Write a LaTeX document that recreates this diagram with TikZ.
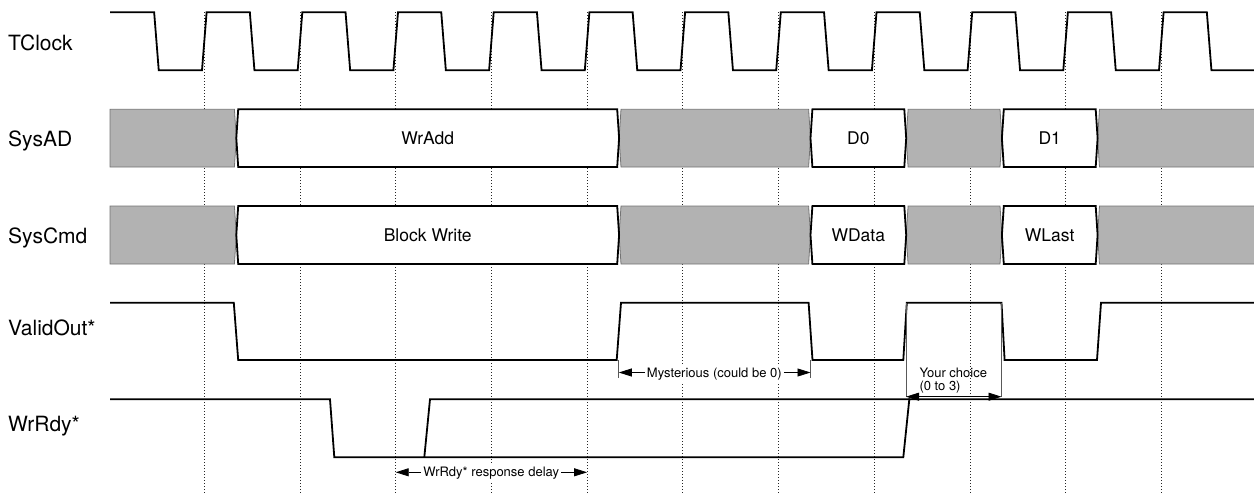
\documentclass[tikz,border=0pt]{standalone}
\usepackage{fontspec}
\setmainfont{TeX Gyre Heros}
\usetikzlibrary{arrows.meta}
\begin{document}
\begin{tikzpicture}[x=1pt,y=-1pt,
  sig/.style={line width=1.8pt, line join=miter},
  gridline/.style={line width=0.7pt, dash pattern=on 1pt off 2pt, black!85},
  lbl/.style={font=\fontsize{21}{21}\selectfont, anchor=base west, inner sep=0pt},
  bustxt/.style={font=\fontsize{17.5}{17.5}\selectfont, anchor=base, inner sep=0pt},
  note/.style={font=\fontsize{13}{13}\selectfont, inner sep=2pt, fill=white},
  notel/.style={font=\fontsize{13}{13}\selectfont, inner sep=0pt, anchor=base west},
  gbus/.style={fill=black!30, draw=black!55, line width=0.8pt},
  wbus/.style={fill=white, draw=black, line width=1.8pt},
  dimarrow/.style={line width=0.8pt, -{Triangle[length=13pt,width=8pt]}},
  dimboth/.style={line width=0.8pt, {Triangle[length=13pt,width=8pt]}-{Triangle[length=13pt,width=8pt]}},
  ticklin/.style={line width=0.8pt, black!65}]
\useasboundingbox (0,0) rectangle (1254,493);

% clock grid lines
\foreach \k in {0,...,10}
  \draw[gridline] ({204.3+95.7*\k},12) -- ({204.3+95.7*\k},493);

% labels
\node[lbl] (lclk) at (8,50) {TClock};
\node[lbl] (lad)  at (8,146) {SysAD};
\node[lbl] (lcmd) at (8,243.3) {SysCmd};
\node[lbl] (lvo)  at (8,335) {ValidOut*};
\node[lbl] (lwr)  at (8,431.7) {WrRdy*};

% TClock
\draw[sig] (110,12.3)
  \foreach \k in {0,...,10}{
    -- ({204.3+95.7*\k-47.85-2.3},12.3) -- ({204.3+95.7*\k-47.85+2.3},70.3)
    -- ({204.3+95.7*\k-2.3},70.3) -- ({204.3+95.7*\k+2.3},12.3)}
  -- (1206.85,12.3) -- (1211.45,70.3) -- (1254,70.3);

% bus rows
\foreach \T/\B/\M in {109.3/167/138.15, 206/264/235}{
  \draw[gbus] (110,\T) -- (234.4,\T) -- (236.3,\M) -- (234.4,\B) -- (110,\B) -- cycle;
  \draw[gbus] (621,\T) -- (808.6,\T) -- (810.5,\M) -- (808.6,\B) -- (621,\B) -- (619.1,\M) -- cycle;
  \draw[gbus] (908.1,\T) -- (1000,\T) -- (1001.9,\M) -- (1000,\B) -- (908.1,\B) -- (906.2,\M) -- cycle;
  \draw[gbus] (1099.5,\T) -- (1257,\T) -- (1257,\B) -- (1099.5,\B) -- (1097.6,\M) -- cycle;
  \draw[wbus] (236.3,\M) -- (238.2,\T) -- (617.2,\T) -- (619.1,\M) -- (617.2,\B) -- (238.2,\B) -- cycle;
  \draw[wbus] (810.5,\M) -- (812.4,\T) -- (904.3,\T) -- (906.2,\M) -- (904.3,\B) -- (812.4,\B) -- cycle;
  \draw[wbus] (1001.9,\M) -- (1003.8,\T) -- (1095.7,\T) -- (1097.6,\M) -- (1095.7,\B) -- (1003.8,\B) -- cycle;
}
\node[bustxt] (wradd) at (427.7,144.5) {WrAdd};
\node[bustxt] (d0) at (858.3,144.5) {D0};
\node[bustxt] (d1) at (1049.7,144.5) {D1};
\node[bustxt] (bw) at (427.7,241.5) {Block Write};
\node[bustxt] (wdata) at (858.3,241.5) {WData};
\node[bustxt] (wlast) at (1049.7,241.5) {WLast};

% ValidOut*
\draw[sig] (110,302.7) -- (233.8,302.7) -- (238.2,360) -- (616.7,360) -- (621,302.7)
  -- (808.6,302.7) -- (812.5,360) -- (903.3,360) -- (906.8,302.7) -- (1001.5,302.7)
  -- (1004.6,360) -- (1097,360) -- (1101,302.7) -- (1254,302.7);

% WrRdy*
\draw[sig] (110,399.3) -- (330,399.3) -- (334.3,457.3) -- (903.3,457.3) -- (909.3,399.3) -- (1254,399.3);
\draw[sig] (424.3,457.3) -- (430,399.3) -- (910,399.3);

% Mysterious annotation
\coordinate (ma) at (618.8,372.5);
\coordinate (mb) at (810.5,372.5);
\draw[ticklin] (618.8,360) -- (618.8,377.5);
\draw[ticklin] (810.5,360) -- (810.5,377.5);
\node[note, anchor=base] (myst) at (714.3,377) {Mysterious (could be 0)};
\draw[dimarrow] (myst.west |- ma) -- (ma);
\draw[dimarrow] (myst.east |- mb) -- (mb);

% Your choice annotation
\coordinate (ya) at (906,396.7);
\coordinate (yb) at (1001.5,396.7);
\draw[ticklin] (906,303) -- (ya);
\draw[ticklin] (1001.5,303) -- (yb);
\draw[dimboth] (ya) -- (yb);
\node[notel] (yc1) at (919.3,377.3) {Your choice};
\node[notel] (yc2) at (919.3,390.7) {(0 to 3)};

% WrRdy* response delay annotation
\coordinate (ra) at (395.7,472.3);
\coordinate (rb) at (587.1,472.3);
\node[note, anchor=base] (resp) at (491.2,476.5) {WrRdy* response delay};
\draw[dimarrow] (resp.west |- ra) -- (ra);
\draw[dimarrow] (resp.east |- rb) -- (rb);
\end{tikzpicture}
\end{document}
